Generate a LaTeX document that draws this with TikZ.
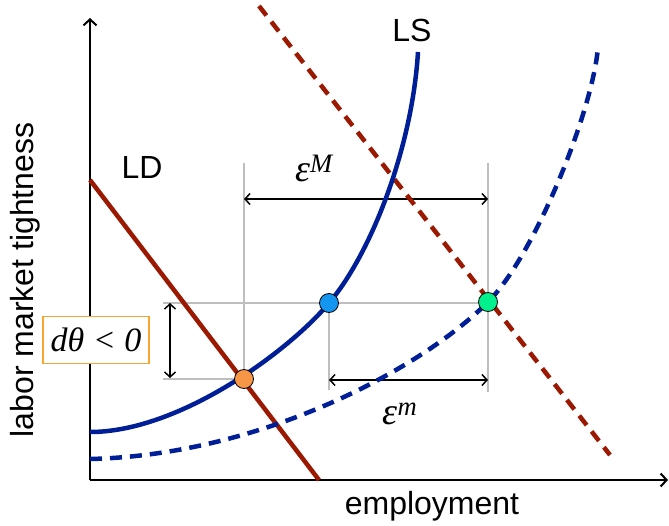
\documentclass[tikz,border=0pt]{standalone}
\usepackage{fontspec}
\setmainfont{Liberation Sans}
\newfontfamily\timesfont{Liberation Serif}
\usetikzlibrary{arrows.meta}
\definecolor{lsblue}{RGB}{0,30,150}
\definecolor{ldred}{RGB}{155,25,0}
\definecolor{guide}{RGB}{190,190,190}
\definecolor{dotorange}{RGB}{247,150,70}
\definecolor{dotblue}{RGB}{20,150,240}
\definecolor{dotgreen}{RGB}{0,240,140}
\definecolor{boxorange}{RGB}{250,165,50}
\tikzset{
  % supply and demand curves
  curve/.style={line width=4.5pt},
  shifted/.style={curve,dash pattern=on 12pt off 8pt},
  % thin gray guide lines
  guideline/.style={draw=guide,line width=1.5pt},
  % double arrows for the gaps
  gap/.style={{Straight Barb[length=5pt,width=11pt]}-{Straight Barb[length=5pt,width=11pt]},line width=1.5pt},
  axis/.style={line width=2pt,-{Straight Barb[length=6pt,width=13pt]}},
  eqdot/.style={circle,draw=black,line width=0.8pt,minimum size=19pt,inner sep=0pt},
  lbl/.style={font=\fontsize{32}{38}\selectfont},
  greek/.style={font=\fontsize{34}{40}\selectfont\timesfont\itshape},
  gap label/.style={font=\fontsize{38}{44}\selectfont\timesfont\itshape},
}
\begin{document}
\begin{tikzpicture}[x=1pt,y=-1pt]
\useasboundingbox (0,0) rectangle (669,526);

% axes
\coordinate (origin) at (90,480);
\coordinate (xend) at (668,480);
\coordinate (yend) at (90,18);
\draw[axis] (origin) -- (xend);
\draw[axis] (origin) -- (yend);
\node[lbl] (xlab) at (432,506) {employment};
\node[lbl,rotate=90] (ylab) at (25,280) {labor market tightness};

% equilibria
\coordinate (eA) at (244,379);
\coordinate (eB) at (329,303);
\coordinate (eC) at (488,302);

% guide lines
\draw[guideline] (eA |- 0,163) -- (eA |- 0,386);
\draw[guideline] (eC |- 0,163) -- (eC |- 0,392);
\draw[guideline] (eB) -- (eB |- 0,390);
\draw[guideline] (163,303) -- (eC |- 0,303);
\draw[guideline] (163,379) -- (eA);

% gaps
\coordinate (mL) at (eA |- 0,199);
\coordinate (mR) at (eC |- 0,199);
\coordinate (nL) at (eB |- 0,380);
\coordinate (nR) at (eC |- 0,380);
\coordinate (dT) at (170,303);
\coordinate (dB) at (170,378);
\draw[gap] (mL) -- (mR);
\draw[gap] (nL) -- (nR);
\draw[gap] (dT) -- (dB);
\node[gap label] (epsM) at (314,168) {ε\textsuperscript{M}};
\node[gap label] (epsm) at (400,414) {ε\textsuperscript{m}};

% labour demand
\draw[curve,ldred] (90,180) -- (319,480);
\draw[shifted,ldred] (259,6) -- (610,455);
\node[lbl] (ld) at (142,167) {LD};

% labour supply
\draw[curve,lsblue] (90,432) .. controls (180,432) and (290,350) .. (eB)
  .. controls (370,255) and (412,150) .. (418,52);
\draw[shifted,lsblue] (90,459) .. controls (260,455) and (420,370) .. (eC)
  .. controls (535,255) and (593,110) .. (598,47);
\node[lbl] (ls) at (412,30) {LS};

% equilibrium points
\node[eqdot,fill=dotorange] (dotA) at (eA) {};
\node[eqdot,fill=dotblue] (dotB) at (eB) {};
\node[eqdot,fill=dotgreen] (dotC) at (eC) {};

% change in tightness
\node[greek,draw=boxorange,line width=1.5pt,fill=white,minimum width=106pt,minimum height=47pt,inner sep=0pt] (dtheta) at (96,340) {dθ~<~0};
\end{tikzpicture}
\end{document}
